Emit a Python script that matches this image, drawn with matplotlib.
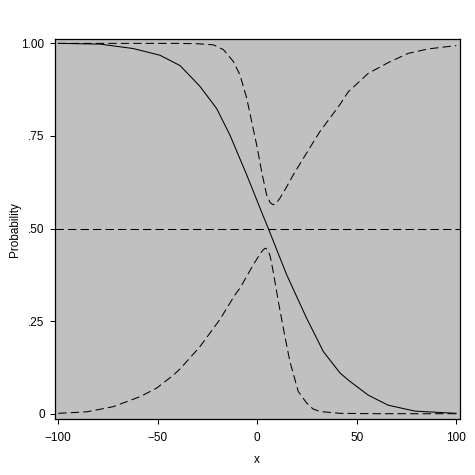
import matplotlib
matplotlib.use("Agg")
import matplotlib.pyplot as plt

# values
x_solid = [-100, -79, -62.3, -48.9, -38.8, -28.8, -20.4, -13.7, -5.3, 1.4, 5.5,
           14.8, 24.8, 33.2, 41.6, 45.7, 55.8, 65.8, 79.2, 100]
p_solid = [1.0, 0.998, 0.986, 0.968, 0.940, 0.884, 0.824, 0.752, 0.645, 0.555, 0.501,
           0.375, 0.258, 0.168, 0.110, 0.091, 0.050, 0.023, 0.007, 0.001]

x_upper = [-100, -60, -40, -30, -22, -17, -12, -8.7, -5.3, -2.8, -0.3, 2.2, 4.7, 6.5,
           8.0, 9.5, 11.4, 14.5, 18.1, 24.8, 31.5, 41.6, 45.7, 55.8, 65.8, 75.9, 85.9, 100]
p_upper = [1.0, 1.0, 1.0, 0.999, 0.996, 0.983, 0.951, 0.915, 0.852, 0.789, 0.726, 0.654,
           0.591, 0.570, 0.564, 0.568, 0.582, 0.610, 0.645, 0.704, 0.762, 0.835, 0.869,
           0.919, 0.948, 0.973, 0.985, 0.994]

x_lower = [-100, -85.7, -72.4, -58.9, -50.6, -42.2, -38.8, -28.8, -18.7, -11.2, -8.7,
           -2.0, 1.0, 3.0, 4.2, 5.5, 6.5, 8.0, 10.6, 13.1, 16.4, 20.6, 24.8, 28, 31.5,
           41.6, 60, 100]
p_lower = [0.001, 0.005, 0.019, 0.046, 0.069, 0.104, 0.121, 0.181, 0.255, 0.321, 0.339,
           0.402, 0.428, 0.443, 0.447, 0.440, 0.425, 0.384, 0.303, 0.231, 0.141, 0.060,
           0.029, 0.013, 0.006, 0.001, 0.0, 0.0]

ref_level = 0.5

x_ticks = [-100, -50, 0, 50, 100]
x_ticklabels = ["\u2212100", "\u221250", "0", "50", "100"]
y_ticks = [0, 0.25, 0.5, 0.75, 1.0]
y_ticklabels = ["0", ".25", ".50", ".75", "1.00"]

plt.rcParams['font.family'] = ['Liberation Sans', 'DejaVu Sans']

fig = plt.figure(figsize=(4.75, 4.75), dpi=100)
ax = fig.add_axes([54.5 / 475, 1 - 419 / 475, (460 - 54.5) / 475, (419 - 39.3) / 475])
ax.set_facecolor('#c0c0c0')

dash = (8, 4)
ax.plot(x_solid, p_solid, color='black', lw=0.75)
ax.plot(x_upper, p_upper, color='black', lw=0.75, dashes=dash)
ax.plot(x_lower, p_lower, color='black', lw=0.75, dashes=dash)
ax.axhline(ref_level, color='black', lw=0.75, dashes=dash)

ax.set_xlim(-101.9, 101.9)
ax.set_ylim(-0.0143, 1.011)
ax.set_xticks(x_ticks)
ax.set_xticklabels(x_ticklabels)
ax.set_yticks(y_ticks)
ax.set_yticklabels(y_ticklabels)
ax.tick_params(direction='out', length=3.6, width=0.75, labelsize=8.5, colors='black')
ax.tick_params(axis='x', pad=6)
ax.tick_params(axis='y', pad=3.5)
for s in ax.spines.values():
    s.set_linewidth(0.9)

ax.set_xlabel('x', fontsize=8.5, labelpad=7)
ax.set_ylabel('Probability', fontsize=8.5, labelpad=0.5)

fig.savefig('out.png', dpi=100, facecolor='white')
